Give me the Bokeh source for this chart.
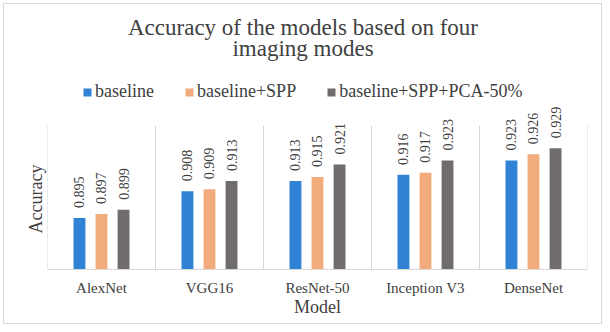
from math import pi
from bokeh.plotting import figure
from bokeh.models import ColumnDataSource, Range1d, Legend, LegendItem, LabelSet, Label, Title
from bokeh.transform import dodge
from bokeh.embed import file_html
from bokeh.resources import INLINE

models = ["AlexNet", "VGG16", "ResNet-50", "Inception V3", "DenseNet"]
series_names = ["baseline", "baseline+SPP", "baseline+SPP+PCA-50%"]
baseline = [0.895, 0.908, 0.913, 0.916, 0.923]
baseline_spp = [0.897, 0.909, 0.915, 0.917, 0.926]
baseline_spp_pca = [0.899, 0.913, 0.921, 0.923, 0.929]
title_lines = ["Accuracy of the models based on four", "imaging modes"]
y_label = "Accuracy"
x_label = "Model"
axis_min, axis_max = 0.87, 0.94

colors = ["#2f82d4", "#f2ab7c", "#716c6c"]
FONT = "Liberation Serif"
TXT = "#404040"
GRID = "#d9d9d9"

# layout (pixels)
W, H = 599, 321
ML, MR, MT, MB = 43, 16, 8, 56
frame_h = H - MT - MB
grid_h = 144  # pixel height of the value axis (axis_min..axis_max)
y_end = axis_min + (axis_max - axis_min) * frame_h / grid_h

src = ColumnDataSource(data=dict(
    model=models,
    b=baseline, s=baseline_spp, p=baseline_spp_pca,
    bl=[f"{v:.3f}" for v in baseline],
    sl=[f"{v:.3f}" for v in baseline_spp],
    pl=[f"{v:.3f}" for v in baseline_spp_pca],
))

p = figure(x_range=models, y_range=Range1d(axis_min, y_end),
           width=W, height=H, output_backend="svg", toolbar_location=None,
           min_border_left=ML, min_border_right=MR, min_border_top=MT, min_border_bottom=MB)
p.styles = {"margin-left": "3px", "margin-top": "3px", "border": "1px solid #d9d9d9"}
p.outline_line_color = None
p.title.visible = False

# category separators (vertical gridlines between models)
sep_x = list(range(len(models) + 1))
p.segment(x0=sep_x, y0=[axis_min] * len(sep_x), x1=sep_x, y1=[axis_max] * len(sep_x),
          line_color=GRID, line_width=1)

offsets = [-0.204, 0.0, 0.204]
cols = ["b", "s", "p"]
lcols = ["bl", "sl", "pl"]
renderers = []
for off, c, lc, col in zip(offsets, cols, lcols, colors):
    r = p.vbar(x=dodge("model", off, range=p.x_range), top=c, bottom=axis_min,
               width=0.11, source=src, fill_color=col, line_color=None)
    renderers.append(r)
    lbl = LabelSet(x=dodge("model", off, range=p.x_range), y=c, text=lc, source=src,
                   angle=pi / 2, text_align="left", text_baseline="middle",
                   y_offset=10, text_font=FONT, text_font_size="14px", text_color=TXT)
    p.add_layout(lbl)

# title (two centred lines)
title_cx = 302.5 - 47
for line, base in zip(title_lines, [242, 221]):
    p.add_layout(Label(x=title_cx, y=base, x_units="screen", y_units="screen", text=line,
                       text_align="center", text_baseline="alphabetic",
                       text_font=FONT, text_font_size="23px", text_color=TXT))

p.xgrid.grid_line_color = None
p.ygrid.grid_line_color = None

xa = p.xaxis[0]
xa.axis_line_color = GRID
xa.major_tick_line_color = None
xa.minor_tick_line_color = None
xa.major_tick_out = 0
xa.major_label_text_font = FONT
xa.major_label_text_font_size = "15px"
xa.major_label_text_color = TXT
xa.major_label_standoff = 10
xa.axis_label = x_label
xa.axis_label_text_font = FONT
xa.axis_label_text_font_size = "18px"
xa.axis_label_text_font_style = "normal"
xa.axis_label_text_color = TXT
xa.axis_label_standoff = -2

# value axis is hidden; its title is centred on the 0.87-0.94 band
p.yaxis.visible = False
ytitle = Title(text=y_label, align="left", offset=36, standoff=4,
               text_font=FONT, text_font_size="18px", text_font_style="normal", text_color=TXT)
p.add_layout(ytitle, "left")

legend = Legend(items=[LegendItem(label=n, renderers=[r]) for n, r in zip(series_names, renderers)],
                orientation="horizontal", location=(35, 167))
legend.label_text_font = FONT
legend.label_text_font_size = "18px"
legend.label_text_color = TXT
legend.glyph_width = 10
legend.glyph_height = 10
legend.spacing = 30
legend.label_standoff = 3
legend.padding = 0
legend.margin = 0
legend.border_line_color = None
legend.background_fill_alpha = 0
p.add_layout(legend, "center")

open("out.html", "w").write(file_html(p, INLINE))
